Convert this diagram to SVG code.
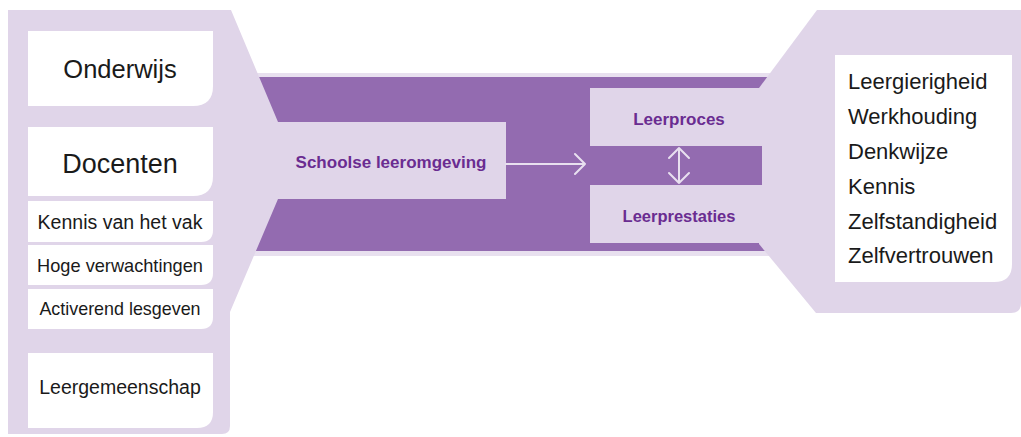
<svg xmlns="http://www.w3.org/2000/svg" width="1021" height="437" viewBox="0 0 1021 437">
  <style>
    .lav { fill: #E0D5E9; }
    .band-edge { fill: #E8E0EF; }
    .purple { fill: #936BB0; }
    .box { fill: #FFFFFF; }
    .t { font-family: "Liberation Sans", Arial, sans-serif; fill: #1A1A1A; }
    .tc { text-anchor: middle; }
    .b { font-family: "Liberation Sans", Arial, sans-serif; font-weight: bold; fill: #6A2C91; text-anchor: middle; }
    .arrow { fill: none; stroke: #E8E0EF; stroke-width: 2; stroke-linecap: round; stroke-linejoin: round; }
  </style>

  <rect width="1021" height="437" fill="#FFFFFF"/>

  <!-- central purple band with light edges -->
  <g id="band">
    <rect class="band-edge" x="240" y="73" width="535" height="183"/>
    <rect class="purple" x="240" y="77" width="535" height="174"/>
  </g>

  <!-- left panel: school environment factors -->
  <g id="left-panel">
    <path class="lav" d="M8,10 H231 L278,122 L278,199 L230,312 V426 Q230,434 222,434 H8 Z"/>
    <path class="box" d="M28,31 H213 V86 Q213,106 193,106 H28 Z"/>
    <text class="t tc" x="120" y="78" font-size="25.5">Onderwijs</text>
    <path class="box" d="M28,127 H213 V176 Q213,196 193,196 H28 Z"/>
    <text class="t tc" x="120" y="173" font-size="27">Docenten</text>
    <path class="box" d="M28,201 H213 V230 Q213,242 201,242 H28 Z"/>
    <text class="t tc" x="120" y="229" font-size="19.5">Kennis van het vak</text>
    <path class="box" d="M28,245 H213 V273 Q213,285 201,285 H28 Z"/>
    <text class="t tc" x="120" y="272" font-size="18.2">Hoge verwachtingen</text>
    <path class="box" d="M28,289 H213 V317 Q213,329 201,329 H28 Z"/>
    <text class="t tc" x="120" y="315" font-size="17.9">Activerend lesgeven</text>
    <path class="box" d="M28,353 H213 V412 Q213,428 197,428 H28 Z"/>
    <text class="t tc" x="120" y="394" font-size="19.5">Leergemeenschap</text>
  </g>

  <!-- Schoolse leeromgeving -->
  <g id="schoolse-leeromgeving">
    <rect class="lav" x="277" y="122" width="229" height="77"/>
    <text class="b" x="391" y="168" font-size="17">Schoolse leeromgeving</text>
  </g>

  <!-- right panel: student outcomes -->
  <g id="right-panel">
    <path class="lav" d="M817,10 H1021 V303 Q1021,313 1011,313 H816 L759,244 V88 Z"/>
    <path class="box" d="M835,55 H1012 V264 Q1012,282 994,282 H835 Z"/>
    <g class="t" font-size="22">
      <text x="848" y="89">Leergierigheid</text>
      <text x="848" y="124">Werkhouding</text>
      <text x="848" y="159">Denkwijze</text>
      <text x="848" y="194">Kennis</text>
      <text x="848" y="229">Zelfstandigheid</text>
      <text x="848" y="263">Zelfvertrouwen</text>
    </g>
  </g>

  <g id="leerproces">
    <rect class="lav" x="590" y="88" width="170" height="58"/>
    <text class="b" x="679" y="125" font-size="17">Leerproces</text>
  </g>

  <g id="middle-strip">
    <rect class="purple" x="590" y="146" width="172" height="39"/>
  </g>

  <g id="leerprestaties">
    <rect class="lav" x="590" y="185" width="170" height="58"/>
    <text class="b" x="679" y="222" font-size="16.5">Leerprestaties</text>
  </g>

  <!-- connectors -->
  <g id="connectors">
    <path class="arrow" d="M506,164 H585 M575,154 L585,164 L575,174"/>
    <path class="arrow" d="M679,148 V183 M669,158 L679,148 L689,158 M669,173 L679,183 L689,173"/>
  </g>
</svg>
